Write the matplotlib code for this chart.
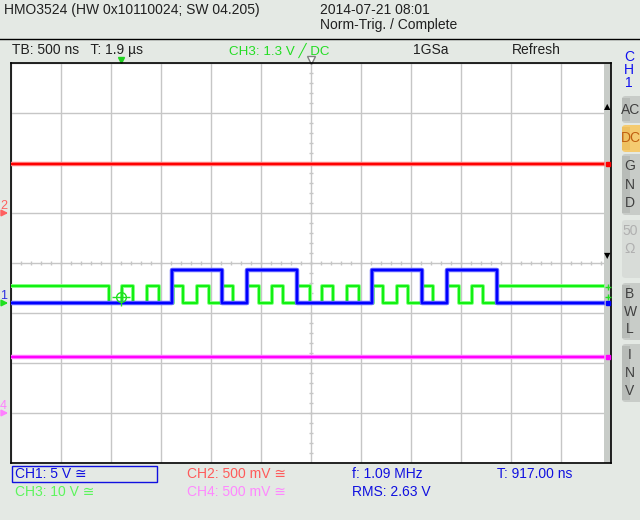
import numpy as np
import matplotlib.pyplot as plt
from matplotlib.patches import Rectangle, FancyBboxPatch

plt.rcParams['font.family'] = ['Liberation Sans', 'DejaVu Sans']

W, H = 640, 520
bg = '#E4E9E4'
grid_col = '#C6C6C6'

# time base 500 ns/div, trigger at 0, screen centre at T = 1.9 us
t_start = -1.1
t_stop = 4.9
t_rec_end = 4.82

# CH1 (blue) 5 V/div, edge times in us
ch1_edges = [0.51, 1.01, 1.26, 1.76, 2.51, 3.01, 3.26, 3.76]
ch1_levels = [0.0, 3.3]
ch1_scale = 5.0
ch1_offset = -0.8

# CH3 (green) 10 V/div
ch3_edges = [-0.12, 0.01, 0.12, 0.26, 0.38, 0.52, 0.62, 0.76, 0.88, 1.01,
             1.12, 1.26, 1.38, 1.51, 1.62, 1.76, 1.89, 2.01, 2.12, 2.26,
             2.38, 2.52, 2.62, 2.76, 2.87, 3.01, 3.12, 3.26, 3.38, 3.51,
             3.62, 3.76]
ch3_levels = [0.0, 3.4]
ch3_scale = 10.0
ch3_offset = -0.8
trig_level = 1.3

# CH2 (red) and CH4 (magenta), 500 mV/div, flat
ch2_level = 0.49
ch2_scale = 0.5
ch2_offset = 1.0
ch4_level = 0.56
ch4_scale = 0.5
ch4_offset = -3.0


def square(edges, levels, start_high):
    t = [t_start] + edges + [t_rec_end]
    state = 1 if start_high else 0
    v = []
    for i in range(len(edges) + 1):
        v.append(levels[state])
        state = 1 - state
    v.append(v[-1])
    return np.array(t), np.array(v)


def fx(x):
    return x / W


def fy(y):
    return 1 - y / H


fig = plt.figure(figsize=(6.4, 5.2), dpi=100, facecolor=bg)
ax = fig.add_axes([fx(11), fy(463), 600 / W, 400 / H])
ax.set_facecolor('white')
ax.set_xlim(t_start, t_stop)
ax.set_ylim(-4, 4)
ax.set_xticks(np.linspace(t_start, t_stop, 13))
ax.set_yticks(np.arange(-4, 5, 1))
ax.tick_params(length=0, labelbottom=False, labelleft=False)
ax.grid(True, color=grid_col, lw=1)
for s in ax.spines.values():
    s.set_color('black')
    s.set_linewidth(1.2)

# small ticks on centre lines
tc = (t_start + t_stop) / 2
ax.plot(np.arange(t_start + 0.1, t_stop, 0.1), np.zeros(59), ls='none',
        marker='|', ms=3.5, color=grid_col, mew=1)
ax.plot(np.full(39, tc), np.arange(-3.8, 4, 0.2), ls='none',
        marker='_', ms=3.5, color=grid_col, mew=1)

# scroll strip on the right
ax.axvspan(4.83, t_stop, color='#C8CCC8', zorder=2, lw=0)

# traces
t2 = np.array([t_start, t_rec_end])
ax.plot(t2, np.full(2, ch2_level / ch2_scale + ch2_offset), color='#FF8080', lw=3.2, zorder=3)
ax.plot(t2, np.full(2, ch2_level / ch2_scale + ch2_offset), color='#FF0000', lw=1.6, zorder=3)
ax.plot(t2, np.full(2, ch4_level / ch4_scale + ch4_offset), color='#FF80FF', lw=3.2, zorder=3)
ax.plot(t2, np.full(2, ch4_level / ch4_scale + ch4_offset), color='#FF00FF', lw=1.6, zorder=3)

t3, v3 = square(ch3_edges, ch3_levels, True)
ax.step(t3, v3 / ch3_scale + ch3_offset, where='post', color='#80FF80', lw=2.8, zorder=4)
ax.step(t3, v3 / ch3_scale + ch3_offset, where='post', color='#10F010', lw=1.4, zorder=4)
t1, v1 = square(ch1_edges, ch1_levels, False)
ax.step(t1, v1 / ch1_scale + ch1_offset, where='post', color='#6060FF', lw=3.2, zorder=5)
ax.step(t1, v1 / ch1_scale + ch1_offset, where='post', color='#0000FF', lw=1.6, zorder=5)

# trigger point
ty = trig_level / ch3_scale + ch3_offset
ax.plot(0, ty, marker='o', ms=7, mfc='none', mec='#20E020', mew=1, zorder=6)
ax.plot(0, ty, marker='+', ms=13, color='#20E020', mew=1, zorder=6)

# markers at top
ax.plot(0, 4.07, marker='v', ms=5, color='#20D020', clip_on=False)
ax.plot(tc, 4.07, marker='v', ms=6, mfc='white', mec='#808080', clip_on=False)

# right level markers
ax.plot(4.87, ch2_level / ch2_scale + ch2_offset, marker='s', ms=3, color='#FF0000', zorder=6)
ax.plot(4.87, ch3_levels[1] / ch3_scale + ch3_offset - 0.02, marker='+', ms=4, color='#20E020', zorder=6)
ax.plot(4.87, ty, marker='+', ms=4, color='#20E020', zorder=6)
ax.plot(4.87, ch1_offset, marker='s', ms=3, color='#0000FF', zorder=6)
ax.plot(4.87, ch4_level / ch4_scale + ch4_offset, marker='s', ms=3, color='#FF00FF', zorder=6)
fig.text(fx(607.5), fy(107), '▲', fontsize=6, ha='center', va='center', family='DejaVu Sans')
fig.text(fx(607.5), fy(256), '▼', fontsize=6, ha='center', va='center', family='DejaVu Sans')

# ground markers on the left
for lab, lev, tcol, acol in [('2', ch2_offset, '#FF6060', '#FF6060'),
                             ('1', ch1_offset, '#3030E0', '#20E020'),
                             ('4', ch4_offset, '#FF80FF', '#FF80FF')]:
    ax.annotate('', xy=(0, lev), xycoords=ax.get_yaxis_transform(),
                xytext=(-8.5, 0), textcoords='offset points',
                arrowprops=dict(arrowstyle='-|>', color=acol, lw=1.3, mutation_scale=9),
                annotation_clip=False)
    ax.annotate(lab, xy=(0, lev), xycoords=ax.get_yaxis_transform(),
                xytext=(-5.5, 5), textcoords='offset points', color=tcol,
                fontsize=9, ha='center', va='center', annotation_clip=False)

# header
fig.text(fx(4), fy(10), 'HMO3524 (HW 0x10110024; SW 04.205)', fontsize=10, va='center', color='#202020')
fig.text(fx(320), fy(10), '2014-07-21 08:01', fontsize=10, va='center', color='#202020')
fig.text(fx(320), fy(25), 'Norm-Trig. / Complete', fontsize=10, va='center', color='#202020')
fig.add_artist(plt.Line2D([0, 1], [fy(39), fy(39)], transform=fig.transFigure, color='black', lw=1))

fig.text(fx(12), fy(50), 'TB: 500 ns   T: 1.9 µs', fontsize=10, va='center', color='#202020')
fig.text(fx(229), fy(50), 'CH3: 1.3 V ╱ DC', fontsize=9.6, va='center', color='#22DD22')
fig.text(fx(413), fy(50), '1GSa', fontsize=10, va='center', color='#202020')
fig.text(fx(512), fy(50), 'Refresh', fontsize=10, va='center', color='#202020')

# footer
fig.add_artist(Rectangle((fx(12), fy(482)), 145 / W, 16 / H, transform=fig.transFigure,
                         fill=False, ec='#1010E0', lw=1))
fig.text(fx(15), fy(474), 'CH1: 5 V ≅', fontsize=10, va='center', color='#1010E0')
fig.text(fx(187), fy(474), 'CH2: 500 mV ≅', fontsize=10, va='center', color='#FF5A5A')
fig.text(fx(352), fy(474), 'f: 1.09 MHz', fontsize=10, va='center', color='#1010E0')
fig.text(fx(497), fy(474), 'T: 917.00 ns', fontsize=10, va='center', color='#1010E0')
fig.text(fx(15), fy(492), 'CH3: 10 V ≅', fontsize=10, va='center', color='#5CF55C')
fig.text(fx(187), fy(492), 'CH4: 500 mV ≅', fontsize=10, va='center', color='#FF88FF')
fig.text(fx(352), fy(492), 'RMS: 2.63 V', fontsize=10, va='center', color='#1010E0')

# right side panel
for i, ch in enumerate('CH1'):
    fig.text(fx(629), fy(57 + 13 * i), ch, fontsize=10, ha='center', va='center', color='#1010F0')

buttons = [('AC', 96, 123), ('DC', 125, 152), ('GND', 154, 215),
           ('50Ω', 220, 278), ('BWL', 283, 340), ('INV', 344, 402)]
for lab, y0, y1 in buttons:
    if lab == 'DC':
        c_left, c_right, tcol, hatch = '#EEC060', '#F5CB70', '#C06010', None
    elif lab == '50Ω':
        c_left, c_right, tcol, hatch = '#D8DCD8', '#D8DCD8', '#B0B0B0', '....'
    else:
        c_left, c_right, tcol, hatch = '#B8BCB8', '#C8CCC8', '#404040', None
    fig.add_artist(FancyBboxPatch((fx(622), fy(y1)), 30 / W, (y1 - y0) / H,
                                  boxstyle='round,pad=0,rounding_size=0.006',
                                  transform=fig.transFigure, fc=c_right, ec='none',
                                  hatch=hatch))
    fig.add_artist(Rectangle((fx(622), fy(y1) + 0.004), 8 / W, (y1 - y0) / H - 0.008,
                             transform=fig.transFigure, fc=c_left, ec='none'))
    n = len(lab)
    if lab in ('AC', 'DC'):
        fig.text(fx(631), fy((y0 + y1) / 2), lab, fontsize=10, ha='center', va='center', color=tcol)
    else:
        step = (y1 - y0) / (n + 0.3)
        for k, ch in enumerate(lab if lab != '50Ω' else ['50', 'Ω']):
            fig.text(fx(630), fy(y0 + step * (k + 0.65)), ch, fontsize=10,
                     ha='center', va='center', color=tcol)

fig.savefig('out.png', dpi=100, facecolor=bg)
